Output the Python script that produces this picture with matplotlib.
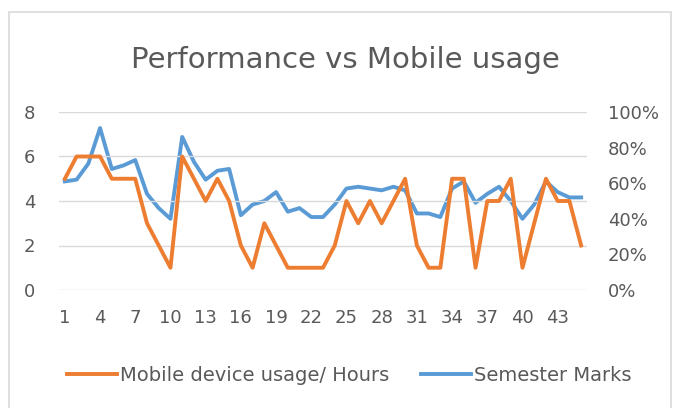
import numpy as np
import matplotlib.pyplot as plt
from matplotlib.patches import Rectangle
from matplotlib.ticker import PercentFormatter

# data
students = np.arange(1, 46)
hours = [5, 6, 6, 6, 5, 5, 5, 3, 2, 1,
         6, 5, 4, 5, 4, 2, 1, 3, 2, 1,
         1, 1, 1, 2, 4, 3, 4, 3, 4, 5,
         2, 1, 1, 5, 5, 1, 4, 4, 5, 1,
         3, 5, 4, 4, 2]
marks = [61, 62, 71, 91, 68, 70, 73, 54, 46, 40,
         86, 72, 62, 67, 68, 42, 48, 50, 55, 44,
         46, 41, 41, 48, 57, 58, 57, 56, 58, 56,
         43, 43, 41, 57, 61, 49, 54, 58, 50, 40,
         48, 61, 55, 52, 52]
xtick_labels = [str(i) for i in range(1, 46, 3)]

orange = '#ED7D31'
blue = '#5B9BD5'
grey = '#595959'

fig = plt.figure(figsize=(6.74, 4.08), dpi=100)
fig.patches.append(Rectangle((9 / 674, -0.01), 662 / 674, (408 - 12) / 408 + 0.01,
                             transform=fig.transFigure, fill=False,
                             edgecolor='#D9D9D9', linewidth=1.2))

ax = fig.add_axes([59 / 674, (408 - 290) / 408, 528 / 674, 178 / 408])
ax2 = ax.twinx()

ax.plot(students, hours, color=orange, linewidth=2.8, label='Mobile device usage/ Hours', zorder=3)
ax2.plot(students, marks, color=blue, linewidth=2.8, label='Semester Marks', zorder=3)

ax.set_xlim(0.5, 45.5)
ax.set_ylim(0, 8)
ax.set_yticks([0, 2, 4, 6, 8])
ax2.set_ylim(0, 100)
ax2.set_yticks([0, 20, 40, 60, 80, 100])
ax2.yaxis.set_major_formatter(PercentFormatter(decimals=0))
ax.set_xticks(range(1, 46, 3))
ax.set_xticklabels(xtick_labels)

ax.grid(axis='y', color='#D9D9D9', linewidth=1)
ax.set_axisbelow(True)
for a in (ax, ax2):
    for s in a.spines.values():
        s.set_visible(False)
    a.tick_params(length=0, colors=grey, labelsize=13)
ax.tick_params(axis='y', pad=17)
ax.tick_params(axis='x', pad=14)
ax2.tick_params(axis='y', pad=15)
ax.set_zorder(ax2.get_zorder() + 1)
ax.patch.set_visible(False)

fig.text(0.512, 0.853, 'Performance vs Mobile usage', ha='center', va='center',
         fontsize=21, color=grey)

h1, l1 = ax.get_legend_handles_labels()
h2, l2 = ax2.get_legend_handles_labels()
fig.legend(h1 + h2, l1 + l2, loc='center', bbox_to_anchor=(0.518, 0.08), ncol=2,
           frameon=False, fontsize=14, labelcolor=grey, handlelength=2.6,
           handletextpad=0.15, columnspacing=1.6)

fig.savefig('out.png', dpi=100)
